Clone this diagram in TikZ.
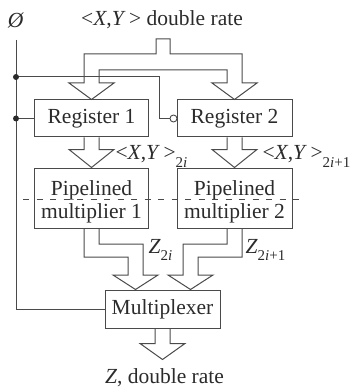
\documentclass[tikz,border=0pt]{standalone}
\usepackage{fontspec}
\setmainfont{Liberation Serif}
\usetikzlibrary{calc}
% lowered subscript set in the text font
\newcommand{\lowsub}[1]{\raisebox{-7.5pt}{\fontsize{15}{15}\selectfont #1}}
\definecolor{ink}{HTML}{2B2B2B}
\definecolor{wire}{HTML}{4A4A4A}
\begin{document}
\begin{tikzpicture}[x=1pt,y=-1pt,line width=1pt,
  every node/.style={font=\fontsize{21.5}{23}\selectfont, text=ink},
  blk/.style={draw=wire, inner sep=0pt, align=center},
  btxt/.style={inner sep=0pt, align=center},
  bus/.style={draw=wire, line join=miter},
  sig/.style={draw=wire},
  jdot/.style={circle, fill=ink, inner sep=0pt, minimum size=6pt},
  invc/.style={circle, draw=wire, inner sep=0pt, minimum size=7pt, line width=0.9pt}]
\useasboundingbox (0,0) rectangle (350,390);

% blocks
\node[blk, minimum width=114pt, minimum height=37pt] (r1) at (91.5,118.5) {Register 1};
\node[blk, minimum width=115pt, minimum height=37pt] (r2) at (234.5,118.5) {Register 2};
\node[blk, minimum width=114pt, minimum height=60pt] (m1) at (91.5,198) {};
\node[blk, minimum width=115pt, minimum height=60pt] (m2) at (234.5,198) {};
\node[btxt] (m1t) at ($(m1.center)+(0,3.5)$) {Pipelined\\multiplier 1};
\node[btxt] (m2t) at ($(m2.center)+(0,3.5)$) {Pipelined\\multiplier 2};
\node[blk, minimum width=115pt, minimum height=38pt] (mux) at (162.5,309) {Multiplexer};

% labels
\node (phi) at (16,20) {\textit{Ø}};
\node[anchor=base] (xyin) at (162,26) {{<}\textit{X},\textit{Y}\,{>} double rate};
\node[anchor=base west, inner sep=0pt] (xy1) at (115,160) {{<}\textit{X},\textit{Y}\,{>}\lowsub{2\textit{i}}};
\node[anchor=base west, inner sep=0pt] (xy2) at (262,160) {{<}\textit{X},\textit{Y}\,{>}\lowsub{2\textit{i}+1}};
\node[anchor=base west, inner sep=0pt] (z1) at (148,253) {\textit{Z}\lowsub{2\textit{i}}};
\node[anchor=base west, inner sep=0pt] (z2) at (245,253) {\textit{Z}\lowsub{2\textit{i}+1}};
\node[anchor=base] (zout) at (164.5,383) {\textit{Z}, double rate};

% input bus splitting to both registers
\draw[bus] (156,39) -- (170,39) -- (170,54) -- (242,54) -- (242,83) -- (257,83)
  -- (r2.north) -- (212,83) -- (227,83) -- (227,70) -- (99,70) -- (99,83)
  -- (114,83) -- (r1.north) -- (69,83) -- (84,83) -- (84,54) -- (156,54) -- cycle;

% register to multiplier buses
\draw[bus] ($(r1.south)+(-7.5,0)$) -- ++(0,12) -- ++(-15,0) -- (m1.north)
  -- ($(r1.south)+(22.5,12)$) -- ++(-15,0) -- ($(r1.south)+(7.5,0)$);
\draw[bus] ($(r2.south)+(-7.5,0)$) -- ++(0,12) -- ++(-15,0) -- (m2.north)
  -- ($(r2.south)+(22.5,12)$) -- ++(-15,0) -- ($(r2.south)+(7.5,0)$);

% multiplier to multiplexer buses
\draw[bus] (84,228) -- (84,257) -- (128,257) -- (128,275) -- (113,275)
  -- ($(mux.north)+(-27,0)$) -- (158,275) -- (143,275) -- (143,244) -- (99,244) -- (99,228);
\draw[bus] (242,228) -- (242,257) -- (198,257) -- (198,275) -- (213,275)
  -- ($(mux.north)+(28,0)$) -- (168,275) -- (183,275) -- (183,244) -- (227,244) -- (227,228);

% output bus
\draw[bus] ($(mux.south)+(-7.5,0)$) -- ++(0,15) -- ++(-15,0) -- ($(mux.south)+(0,31)$)
  -- ($(mux.south)+(22.5,15)$) -- ++(-15,0) -- ($(mux.south)+(7.5,0)$);

% pipeline stage boundary
\draw[sig, dash pattern=on 6pt off 7.5pt] (23,199) -- (302,199);

% clock distribution
\coordinate (clk) at (16,40);
\coordinate (j1) at (16,77);
\coordinate (j2) at (16,118.5);
\coordinate (bend) at (159,77);
\node[invc] (inv) at (173.5,118.5) {};
\draw[sig] (clk) |- (mux.west);
\draw[sig] (j2) -- (r1.west);
\draw[sig] (j1) -- (bend) |- (inv.west);
\node[jdot] at (j1) {};
\node[jdot] at (j2) {};
\end{tikzpicture}
\end{document}
